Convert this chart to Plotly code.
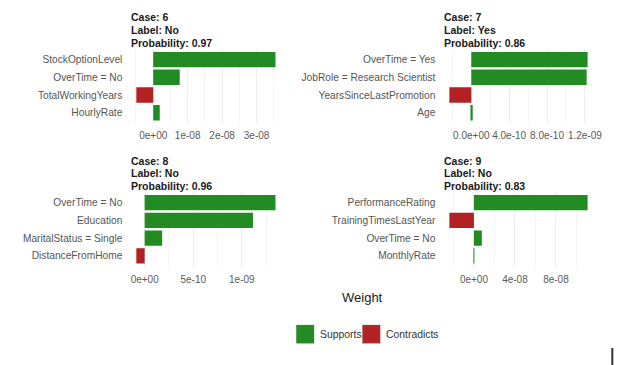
import plotly.graph_objects as go

W, H = 644, 365

# ---------------- data ----------------
cases = ["6", "7", "8", "9"]
labels = ["No", "Yes", "No", "No"]
probabilities = ["0.97", "0.86", "0.96", "0.83"]

features_6 = ["StockOptionLevel", "OverTime = No", "TotalWorkingYears", "HourlyRate"]
weights_6 = [3.55e-08, 0.77e-08, -0.49e-08, 0.19e-08]
features_7 = ["OverTime = Yes", "JobRole = Research Scientist", "YearsSinceLastPromotion", "Age"]
weights_7 = [1.229e-09, 1.219e-09, -2.32e-10, 1.5e-11]
features_8 = ["OverTime = No", "Education", "MaritalStatus = Single", "DistanceFromHome"]
weights_8 = [1.347e-09, 1.115e-09, 1.8e-10, -8.6e-11]
features_9 = ["PerformanceRating", "TrainingTimesLastYear", "OverTime = No", "MonthlyRate"]
weights_9 = [1.109e-07, -2.4e-08, 7.7e-09, 2e-10]

tickvals_6 = [0, 1e-08, 2e-08, 3e-08]
ticktext_6 = ["0e+00", "1e-08", "2e-08", "3e-08"]
tickvals_7 = [0, 4e-10, 8e-10, 1.2e-09]
ticktext_7 = ["0.0e+00", "4.0e-10", "8.0e-10", "1.2e-09"]
tickvals_8 = [0, 5e-10, 1e-09]
ticktext_8 = ["0e+00", "5e-10", "1e-09"]
tickvals_9 = [0, 4e-08, 8e-08]
ticktext_9 = ["0e+00", "4e-08", "8e-08"]

minor_step = [0.5e-08, 2e-10, 2.5e-10, 2e-08]

legend_names = ["Supports", "Contradicts"]
colors = {"Supports": "#228B22", "Contradicts": "#B22222"}

# ---------------- layout helpers (window pixel -> paper) ----------------
def px(x):
    return x / W

def py(y):
    return 1 - y / H

panels = [
    dict(x0=131, x1=286, y0=49, y1=123.3),
    dict(x0=448, x1=602, y0=49, y1=123.3),
    dict(x0=131, x1=286, y0=192, y1=266.5),
    dict(x0=448, x1=602, y0=192, y1=266.5),
]

feats = [features_6, features_7, features_8, features_9]
wts = [weights_6, weights_7, weights_8, weights_9]
tvals = [tickvals_6, tickvals_7, tickvals_8, tickvals_9]
ttext = [ticktext_6, ticktext_7, ticktext_8, ticktext_9]

FONT = "Liberation Sans, Arial, sans-serif"

fig = go.Figure()
annotations = []
shapes = []

for i in range(4):
    f, w = feats[i], wts[i]
    ax = "" if i == 0 else str(i + 1)
    cols = [colors["Supports"] if v >= 0 else colors["Contradicts"] for v in w]
    fig.add_trace(go.Bar(
        x=w, y=f, orientation="h",
        marker=dict(color=cols, line=dict(width=0)),
        width=0.87, showlegend=False,
        xaxis="x" + ax, yaxis="y" + ax,
        hovertemplate="%{y}: %{x}<extra></extra>",
    ))
    lo = min(0, min(w))
    hi = max(0, max(w))
    pad = 0.05 * (hi - lo)
    p = panels[i]
    fig.layout["xaxis" + ax] = dict(
        domain=[px(p["x0"]), px(p["x1"])],
        anchor="y" + ax,
        range=[lo - pad, hi + pad],
        tickmode="array", tickvals=tvals[i], ticktext=ttext[i],
        showgrid=True, gridcolor="#EDEDED", gridwidth=1,
        minor=dict(tickmode="linear", tick0=0, dtick=minor_step[i],
                   showgrid=True, gridcolor="#F4F4F4", gridwidth=1),
        zeroline=False, showline=False,
        ticks="outside", ticklen=3, tickcolor="rgba(0,0,0,0)",
        tickfont=dict(family=FONT, size=10, color="#5A5A5A"),
        fixedrange=True,
    )
    fig.layout["yaxis" + ax] = dict(
        domain=[py(p["y1"]), py(p["y0"])],
        anchor="x" + ax,
        type="category",
        categoryorder="array", categoryarray=f,
        range=[len(f) - 0.4, -0.6],
        showgrid=False, zeroline=False, showline=False,
        ticks="outside", ticklen=4, tickcolor="rgba(0,0,0,0)",
        tickfont=dict(family=FONT, size=10.2, color="#555555"),
        fixedrange=True,
    )
    title_lines = ["Case: " + cases[i], "Label: " + labels[i], "Probability: " + probabilities[i]]
    for j, t in enumerate(title_lines):
        annotations.append(dict(
            text="<b>" + t + "</b>", x=px(p["x0"]), y=py(p["y0"] - 31.5 + 12.9 * j),
            xref="paper", yref="paper", xanchor="left", yanchor="middle",
            showarrow=False, font=dict(family=FONT, size=10.5, color="#1A1A1A"),
        ))

# axis title
annotations.append(dict(
    text="Weight", x=px(367), y=py(297), xref="paper", yref="paper",
    xanchor="center", yanchor="middle", showarrow=False,
    font=dict(family=FONT, size=13, color="#1A1A1A"),
))

# legend (manual keys)
key_x = [300, 367]
for name, kx in zip(legend_names, key_x):
    shapes.append(dict(type="rect", xref="paper", yref="paper",
                       x0=px(kx), x1=px(kx + 18), y0=py(343.3), y1=py(325),
                       fillcolor=colors[name], line=dict(color="rgba(120,120,120,0.5)", width=0.6)))
    annotations.append(dict(
        text=name, x=px(kx + 21.5), y=py(334.5), xref="paper", yref="paper",
        xanchor="left", yanchor="middle", showarrow=False,
        font=dict(family=FONT, size=10.4, color="#333333"),
    ))

# small vertical cursor mark in the corner
shapes.append(dict(type="line", xref="paper", yref="paper",
                   x0=px(620), x1=px(620), y0=py(348), y1=py(365),
                   line=dict(color="#333333", width=2)))

fig.update_layout(
    width=W, height=H,
    margin=dict(l=0, r=0, t=0, b=0),
    paper_bgcolor="white", plot_bgcolor="white",
    annotations=annotations, shapes=shapes,
    showlegend=False,
)

fig.write_html(
    "out.html",
    config={"displayModeBar": False},
    post_script="document.body.style.margin='0';document.body.style.overflow='hidden';",
)
